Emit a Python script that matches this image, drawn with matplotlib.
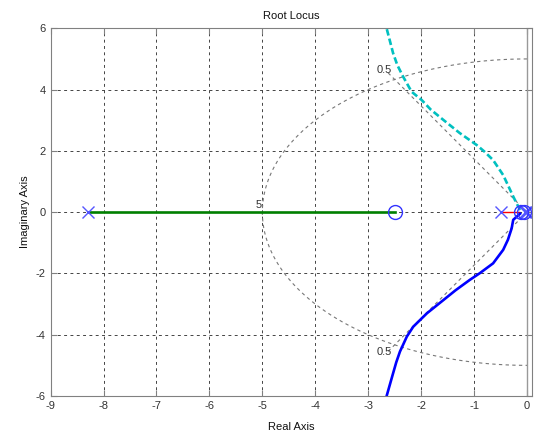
import numpy as np
import matplotlib
matplotlib.use("Agg")
import matplotlib.pyplot as plt

plt.rcParams['font.family'] = ['Liberation Sans', 'DejaVu Sans']
plt.rcParams['axes.unicode_minus'] = False

# ---- data ----
poles_x = [-8.3, -0.5, -0.03, -0.01, 0.005]
zeros_x = [-2.5, -0.11, -0.06]

green_x = [-8.3, -2.5]
green_y = [0.0, 0.0]

red_x = [-0.5, -0.15]
red_y = [0.0, 0.0]

cyan_x = [-0.13, -0.20, -0.26, -0.36, -0.45, -0.64, -0.80, -0.95, -1.27, -1.58, -1.82, -1.99, -2.18, -2.34, -2.45, -2.53, -2.66]
cyan_y = [0.07, 0.30, 0.51, 0.88, 1.21, 1.70, 1.97, 2.19, 2.58, 3.01, 3.35, 3.66, 3.93, 4.42, 4.80, 5.19, 6.05]

blue_x = [-0.13, -0.26, -0.29, -0.36, -0.45, -0.64, -0.89, -1.08, -1.35, -1.58, -1.89, -2.15, -2.27, -2.40, -2.47, -2.53, -2.66]
blue_y = [-0.05, -0.25, -0.53, -0.90, -1.23, -1.67, -1.99, -2.21, -2.55, -2.87, -3.30, -3.74, -4.06, -4.55, -4.90, -5.26, -6.05]

zeta = 0.5
wn = 5.0
zeta_len = 5.25

xticks = list(range(-9, 1))
yticks = [-6, -4, -2, 0, 2, 4, 6]

# ---- figure ----
fig = plt.figure(figsize=(5.34, 4.40), dpi=100)
ax = fig.add_axes([0.0948, 0.100, 0.901, 0.8357])

gridc = '#444444'
ax.set_xlim(-9, 0.09)
ax.set_ylim(-6, 6)
ax.set_xticks(xticks)
ax.set_yticks(yticks)
ax.grid(True, color=gridc, linestyle=(0, (3, 3.5)), linewidth=0.7)
ax.set_axisbelow(True)

# sgrid: wn circle and zeta lines
th = np.linspace(np.pi / 2, 3 * np.pi / 2, 200)
ax.plot(wn * np.cos(th), wn * np.sin(th), color='#777777', linestyle=(0, (3, 3)), linewidth=0.8)
ang = np.arccos(zeta)
for s in (1, -1):
    ax.plot([0, -zeta_len * np.cos(ang)], [0, s * zeta_len * np.sin(ang)],
            color='#777777', linestyle=(0, (3, 3)), linewidth=0.8)
ax.text(-2.70, 4.64, '0.5', fontsize=8, ha='center', va='center', color='#333333')
ax.text(-2.70, -4.57, '0.5', fontsize=8, ha='center', va='center', color='#333333')
ax.text(-5.02, 0.22, '5', fontsize=8, ha='right', va='center', color='#333333')

# imaginary axis line
ax.axvline(0, color='#999999', linewidth=1.0)

# branches
ax.plot(green_x, green_y, color='#007f00', linewidth=1.9)
ax.plot(red_x, red_y, color='#ff0000', linewidth=1.0)
ax.plot(cyan_x, cyan_y, color='#00c0c0', linewidth=1.9, linestyle=(0, (2.5, 1.2)))
ax.plot(blue_x, blue_y, color='#0000ff', linewidth=1.9)

# poles and zeros
ax.plot(poles_x, [0] * len(poles_x), linestyle='none', marker='x', markersize=8,
        markeredgewidth=1.0, color='#5555ff')
ax.plot(zeros_x, [0] * len(zeros_x), linestyle='none', marker='o', markersize=10,
        markeredgewidth=1.0, markerfacecolor='none', markeredgecolor='#3333ff')

for sp in ax.spines.values():
    sp.set_color('#808080')
ax.tick_params(direction='in', length=4, top=True, right=True, colors='#808080',
               labelcolor='#333333', labelsize=8)
ax.set_title('Root Locus', fontsize=8, pad=7, color='#111111')
ax.set_xlabel('Real Axis', fontsize=8, labelpad=8, color='#111111')
ax.set_ylabel('Imaginary Axis', fontsize=8, labelpad=4, color='#111111')

fig.savefig('out.png', dpi=100)
